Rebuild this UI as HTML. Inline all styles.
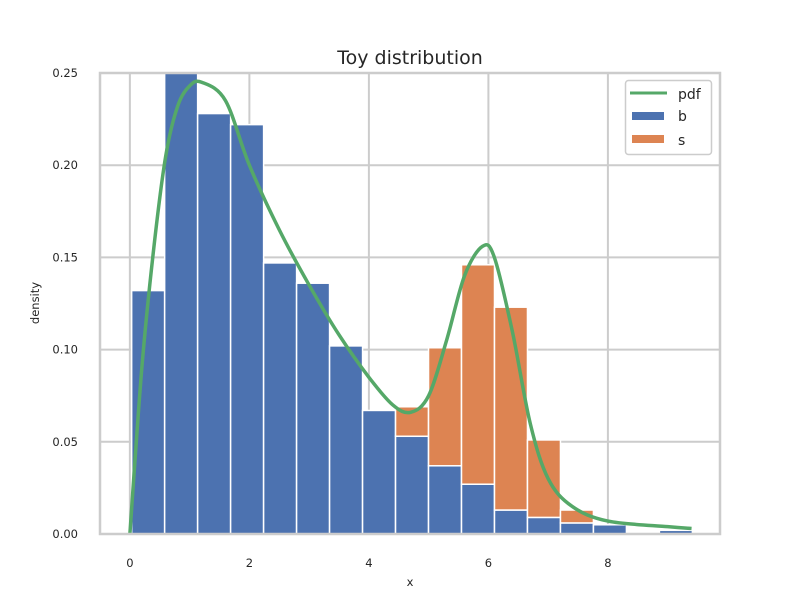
<!DOCTYPE html>
<html><head><meta charset="utf-8"><style>
body{margin:0;background:#fff;}
svg{display:block;font-family:"DejaVu Sans","Liberation Sans",sans-serif;}
</style></head><body>
<svg id="chart" width="800" height="600">
<rect x="0" y="0" width="800" height="600" fill="#fff"/>
<g id="grid"></g><g id="bars"></g><g id="line"></g><g id="axes"></g>
<text x="410" y="64" text-anchor="middle" font-size="19" fill="#262626">Toy distribution</text>
<text x="410" y="586" text-anchor="middle" font-size="11.5" fill="#262626">x</text>
<text x="39" y="303" text-anchor="middle" font-size="11.5" fill="#262626" transform="rotate(-90 39 303)">density</text>
<g>
<rect x="625.5" y="80.5" width="86" height="74" rx="3" fill="#fff" stroke="#cccccc" stroke-width="1.5"/>
<line x1="630" y1="93" x2="667" y2="93" stroke="#55a868" stroke-width="3"/>
<text x="678" y="99" font-size="14" fill="#262626">pdf</text>
<rect x="632" y="112" width="32" height="8" fill="#4c72b0"/>
<text x="678" y="121" font-size="14" fill="#262626">b</text>
<rect x="632" y="135" width="32" height="8" fill="#dd8452"/>
<text x="678" y="145" font-size="14" fill="#262626">s</text>
</g>
</svg>
<script>
const binStart = 0.03;
const binWidth = 0.552;
const bValues = [0.132,0.250,0.228,0.222,0.147,0.136,0.102,0.067,0.053,0.037,0.027,0.013,0.009,0.006,0.005,0,0.002];
const sValues = [0,0,0,0,0,0,0,0,0.016,0.064,0.119,0.110,0.042,0.007,0,0,0];
const pdfX = [0,0.2,0.4,0.6,0.8,1.0,1.2,1.6,2.0,2.5,3.0,3.5,4.0,4.4,4.7,5.0,5.3,5.6,5.9,6.1,6.4,6.7,7.0,7.4,8.0,9.0,9.4];
const pdfY = [0,0.09,0.155,0.205,0.232,0.243,0.245,0.235,0.2,0.165,0.135,0.108,0.085,0.07,0.066,0.075,0.105,0.14,0.156,0.15,0.11,0.06,0.03,0.015,0.007,0.004,0.003];
const xTicks = [0,2,4,6,8];
const yTicks = [0,0.05,0.10,0.15,0.20,0.25];
const yTickLabels = ["0.00","0.05","0.10","0.15","0.20","0.25"];
const L=100,R=720,T=73,B=534,xmin=-0.5,xmax=9.876,ymax=0.25;
const sx=v=>L+(v-xmin)/(xmax-xmin)*(R-L);
const sy=v=>B-v/ymax*(B-T);
const NS='http://www.w3.org/2000/svg';
function mk(tag,attrs,parent){const e=document.createElementNS(NS,tag);for(const k in attrs)e.setAttribute(k,attrs[k]);parent.appendChild(e);return e;}
const grid=document.getElementById('grid'),bars=document.getElementById('bars'),line=document.getElementById('line'),axes=document.getElementById('axes');
xTicks.forEach(t=>{
 const g=mk('line',{x1:sx(t),x2:sx(t),y1:T,y2:B,stroke:'#cccccc','stroke-width':2},grid);
 
 
 const tx=mk('text',{x:sx(t),y:B+33,'text-anchor':'middle','font-size':11.5,fill:'#262626'},axes);
 tx.textContent=t;
 
 
});
yTicks.forEach((t,i)=>{
 const g=mk('line',{x1:L,x2:R,y1:sy(t),y2:sy(t),stroke:'#cccccc','stroke-width':2},grid);
 
 
 const tx=mk('text',{x:L-22,y:sy(t)+4,'text-anchor':'end','font-size':11.5,fill:'#262626'},axes);
 tx.textContent=yTickLabels[i];
 
 
});
bValues.forEach((b,i)=>{
 const x0=sx(binStart+i*binWidth),x1=sx(binStart+(i+1)*binWidth);
 if(b>0){const r=mk('rect',{x:x0,y:sy(b),width:x1-x0,height:sy(0)-sy(b),fill:'#4c72b0',stroke:'#fff','stroke-width':1.5},bars);
 
 }
 const s=sValues[i];
 if(s>0){const r=mk('rect',{x:x0,y:sy(b+s),width:x1-x0,height:sy(b)-sy(b+s),fill:'#dd8452',stroke:'#fff','stroke-width':1.5},bars);
 
 }
});
const pts=pdfX.map((x,i)=>[sx(x),sy(pdfY[i])]);
let d='M'+pts[0][0]+','+pts[0][1];
for(let i=0;i<pts.length-1;i++){
 const p0=pts[Math.max(0,i-1)],p1=pts[i],p2=pts[i+1],p3=pts[Math.min(pts.length-1,i+2)];
 const c1=[p1[0]+(p2[0]-p0[0])/6,p1[1]+(p2[1]-p0[1])/6],c2=[p2[0]-(p3[0]-p1[0])/6,p2[1]-(p3[1]-p1[1])/6];
 d+=` C${c1[0]},${c1[1]} ${c2[0]},${c2[1]} ${p2[0]},${p2[1]}`;
}
const pl=mk('path',{d:d,fill:'none',stroke:'#55a868','stroke-width':3.5},line);


const fr=mk('rect',{x:L,y:T,width:R-L,height:B-T,fill:'none',stroke:'#cccccc','stroke-width':2.5},axes);


</script>
</body></html>
